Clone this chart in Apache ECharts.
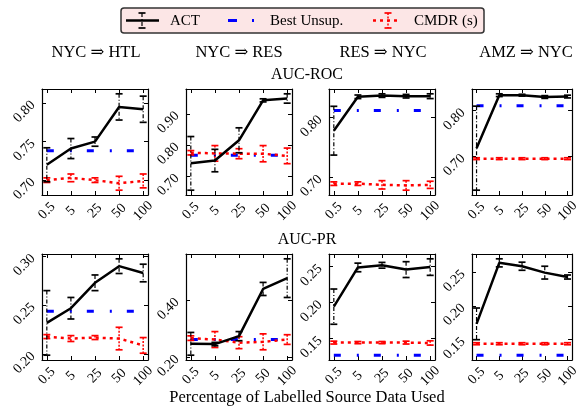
<!DOCTYPE html>
<html>
<head>
<meta charset="utf-8">
<script src="https://cdn.jsdelivr.net/npm/echarts@6/dist/echarts.min.js"></script>
<style>
  html, body { margin: 0; padding: 0; background: #fff; }
  #chart { width: 582px; height: 409px; }
</style>
</head>
<body>
<div id="chart"></div>
<script>
// x categories (percentage of labelled source data)
const categories = ['0.5', '5', '25', '50', '100'];
const tasks = ['NYC ⇒ HTL', 'NYC ⇒ RES', 'RES ⇒ NYC', 'AMZ ⇒ NYC'];
const metrics = ['AUC-ROC', 'AUC-PR'];

// AUC-ROC, one row per task (mean and std)
const actRoc = [
  [0.720, 0.741, 0.750, 0.795, 0.792],
  [0.741, 0.750, 0.815, 0.943, 0.949],
  [0.778, 0.835, 0.837, 0.836, 0.836],
  [0.718, 0.834, 0.834, 0.830, 0.831]
];
const actRocErr = [
  [0.022, 0.013, 0.006, 0.017, 0.017],
  [0.086, 0.036, 0.040, 0.005, 0.015],
  [0.041, 0.003, 0.003, 0.003, 0.004],
  [0.092, 0.003, 0.002, 0.003, 0.003]
];
const cmdrRoc = [
  [0.700, 0.703, 0.700, 0.696, 0.699],
  [0.775, 0.773, 0.772, 0.772, 0.765],
  [0.689, 0.689, 0.687, 0.686, 0.687],
  [0.695, 0.695, 0.695, 0.695, 0.695]
];
const cmdrRocErr = [
  [0.003, 0.005, 0.003, 0.009, 0.009],
  [0.007, 0.025, 0.016, 0.026, 0.025],
  [0.003, 0.003, 0.007, 0.008, 0.006],
  [0.002, 0.002, 0.002, 0.002, 0.002]
];
const bestRoc = [0.738, 0.767, 0.812, 0.811];

// AUC-PR
const actPr = [
  [0.232, 0.247, 0.273, 0.290, 0.283],
  [0.247, 0.246, 0.274, 0.440, 0.478],
  [0.1945, 0.249, 0.252, 0.246, 0.2495],
  [0.1735, 0.264, 0.259, 0.2495, 0.243]
];
const actPrErr = [
  [0.033, 0.011, 0.008, 0.0075, 0.009],
  [0.040, 0.006, 0.016, 0.023, 0.068],
  [0.0245, 0.006, 0.004, 0.011, 0.0115],
  [0.0235, 0.006, 0.006, 0.0095, 0.003]
];
const cmdrPr = [
  [0.218, 0.216, 0.217, 0.216, 0.209],
  [0.267, 0.262, 0.251, 0.254, 0.262],
  [0.1445, 0.1445, 0.1445, 0.1445, 0.144],
  [0.144, 0.144, 0.144, 0.144, 0.144]
];
const cmdrPrErr = [
  [0.002, 0.003, 0.002, 0.0115, 0.008],
  [0.008, 0.028, 0.021, 0.028, 0.017],
  [0.002, 0.0015, 0.0015, 0.002, 0.003],
  [0.0015, 0.0015, 0.0015, 0.0015, 0.0015]
];
const bestPr = [0.244, 0.262, 0.127, 0.127];

// y tick labels per panel
const rocTicks = [[0.70, 0.75, 0.80], [0.70, 0.80, 0.90], [0.70, 0.80], [0.70, 0.80]];
const prTicks = [[0.20, 0.25, 0.30], [0.20, 0.40], [0.15, 0.20, 0.25], [0.15, 0.20, 0.25]];

const serif = '"Liberation Serif", "DejaVu Serif", serif';
const gridLeft = [42, 186, 329, 472];
const gridTop = [89, 254];
const xIdx = categories.map((c, i) => i);

function errorBar(color, dash, capW, width) {
  return function (params, api) {
    const x = api.value(0);
    const hi = api.coord([x, api.value(2)]);
    const lo = api.coord([x, api.value(1)]);
    return {
      type: 'group',
      children: [
        { type: 'line', shape: { x1: hi[0], y1: hi[1], x2: lo[0], y2: lo[1] },
          style: { stroke: color, lineWidth: width, lineDash: dash } },
        { type: 'line', shape: { x1: hi[0] - capW, y1: hi[1], x2: hi[0] + capW, y2: hi[1] },
          style: { stroke: color, lineWidth: 1.7 } },
        { type: 'line', shape: { x1: lo[0] - capW, y1: lo[1], x2: lo[0] + capW, y2: lo[1] },
          style: { stroke: color, lineWidth: 1.7 } }
      ]
    };
  };
}

// matplotlib-like auto range with 5% margins
function autoRange(act, actErr, cmdr, cmdrErr, best) {
  let lo = best, hi = best;
  act.forEach((v, i) => { lo = Math.min(lo, v - actErr[i]); hi = Math.max(hi, v + actErr[i]); });
  cmdr.forEach((v, i) => { lo = Math.min(lo, v - cmdrErr[i]); hi = Math.max(hi, v + cmdrErr[i]); });
  const m = (hi - lo) * 0.05;
  return [lo - m, hi + m];
}

const grids = [], xAxes = [], yAxes = [], series = [];
const axisLine = { onZero: false, lineStyle: { color: '#000', width: 1.2 } };
const tickStyle = { color: '#000', width: 1 };

for (let r = 0; r < 2; r++) {
  for (let c = 0; c < 4; c++) {
    const gi = r * 4 + c;
    const act = r === 0 ? actRoc[c] : actPr[c];
    const actErr = r === 0 ? actRocErr[c] : actPrErr[c];
    const cmdr = r === 0 ? cmdrRoc[c] : cmdrPr[c];
    const cmdrErr = r === 0 ? cmdrRocErr[c] : cmdrPrErr[c];
    const best = r === 0 ? bestRoc[c] : bestPr[c];
    const ticks = r === 0 ? rocTicks[c] : prTicks[c];
    const [ymin, ymax] = autoRange(act, actErr, cmdr, cmdrErr, best);

    grids.push({ left: gridLeft[c], top: gridTop[r], width: 106, height: 106 });

    xAxes.push({
      type: 'value', gridIndex: gi, min: -0.2, max: 4.2, position: 'bottom',
      axisLine: axisLine,
      axisTick: { inside: true, length: 4, customValues: xIdx, lineStyle: tickStyle },
      axisLabel: {
        customValues: xIdx, formatter: v => categories[Math.round(v)],
        rotate: 45, align: 'center', verticalAlign: 'middle', margin: 16,
        fontFamily: serif, fontSize: 14, color: '#000'
      },
      splitLine: { show: false }
    }, {
      type: 'value', gridIndex: gi, min: -0.2, max: 4.2, position: 'top',
      axisLine: axisLine,
      axisTick: { inside: true, length: 4, customValues: xIdx, lineStyle: tickStyle },
      axisLabel: { show: false },
      splitLine: { show: false }
    });

    yAxes.push({
      type: 'value', gridIndex: gi, min: ymin, max: ymax, position: 'left',
      axisLine: axisLine,
      axisTick: { inside: true, length: 4, customValues: ticks, lineStyle: tickStyle },
      axisLabel: {
        customValues: ticks, formatter: v => v.toFixed(2),
        rotate: 45, margin: 9, fontFamily: serif, fontSize: 14, color: '#000'
      },
      splitLine: { show: false }
    }, {
      type: 'value', gridIndex: gi, min: ymin, max: ymax, position: 'right',
      axisLine: axisLine,
      axisTick: { inside: true, length: 4, customValues: ticks, lineStyle: tickStyle },
      axisLabel: { show: false },
      splitLine: { show: false }
    });

    const xi = gi * 2, yi = gi * 2;
    series.push({
      type: 'line', xAxisIndex: xi, yAxisIndex: yi, symbol: 'none', silent: true, z: 2,
      data: xIdx.map(i => [i, best]),
      lineStyle: { color: '#0000ff', width: 3, type: [7, 16, 2, 15] }
    }, {
      type: 'line', xAxisIndex: xi, yAxisIndex: yi, symbol: 'none', silent: true, z: 3,
      data: cmdr.map((v, i) => [i, v]),
      lineStyle: { color: '#ff0000', width: 2.5, type: [3, 4] }
    }, {
      type: 'custom', xAxisIndex: xi, yAxisIndex: yi, silent: true, z: 4,
      renderItem: errorBar('#ff0000', [2, 1.5], 3.5, 1.5),
      encode: { x: 0, y: [1, 2] },
      data: cmdr.map((v, i) => [i, v - cmdrErr[i], v + cmdrErr[i]])
    }, {
      type: 'line', xAxisIndex: xi, yAxisIndex: yi, symbol: 'none', silent: true, z: 5,
      data: act.map((v, i) => [i, v]),
      lineStyle: { color: '#000', width: 2.5 }
    }, {
      type: 'custom', xAxisIndex: xi, yAxisIndex: yi, silent: true, z: 6,
      renderItem: errorBar('#000', [4, 2, 1, 2], 3.5, 1.2),
      encode: { x: 0, y: [1, 2] },
      data: act.map((v, i) => [i, v - actErr[i], v + actErr[i]])
    });
  }
}

function label(text, x, y, size, align) {
  return {
    type: 'text', x: x, y: y, z: 100,
    style: {
      text: text, font: size + 'px ' + serif, fill: '#000',
      align: align || 'center', verticalAlign: 'middle',
      textAlign: align || 'center', textVerticalAlign: 'middle'
    }
  };
}

const graphics = [
  // legend box
  { type: 'rect', z: 90, shape: { x: 121, y: 8, width: 363, height: 25, r: 3 },
    style: { fill: '#fce6e6', stroke: '#333', lineWidth: 1.5 } },
  { type: 'line', z: 95, shape: { x1: 126, y1: 20.5, x2: 159, y2: 20.5 }, style: { stroke: '#000', lineWidth: 2.5 } },
  { type: 'line', z: 95, shape: { x1: 142, y1: 13, x2: 142, y2: 28 }, style: { stroke: '#000', lineWidth: 1.2, lineDash: [4, 2, 1, 2] } },
  { type: 'line', z: 95, shape: { x1: 138.5, y1: 13, x2: 145.5, y2: 13 }, style: { stroke: '#000', lineWidth: 1.7 } },
  { type: 'line', z: 95, shape: { x1: 138.5, y1: 28, x2: 145.5, y2: 28 }, style: { stroke: '#000', lineWidth: 1.7 } },
  { type: 'line', z: 95, shape: { x1: 228, y1: 20.5, x2: 256, y2: 20.5 }, style: { stroke: '#0000ff', lineWidth: 3, lineDash: [9, 15, 2, 15] } },
  { type: 'line', z: 95, shape: { x1: 373, y1: 20.5, x2: 398, y2: 20.5 }, style: { stroke: '#ff0000', lineWidth: 2.5, lineDash: [3, 4] } },
  { type: 'line', z: 95, shape: { x1: 388, y1: 13, x2: 388, y2: 28 }, style: { stroke: '#ff0000', lineWidth: 1.5, lineDash: [2, 1.5] } },
  { type: 'line', z: 95, shape: { x1: 384.5, y1: 13, x2: 391.5, y2: 13 }, style: { stroke: '#ff0000', lineWidth: 1.7 } },
  { type: 'line', z: 95, shape: { x1: 384.5, y1: 28, x2: 391.5, y2: 28 }, style: { stroke: '#ff0000', lineWidth: 1.7 } },
  label('ACT', 170, 21, 15, 'left'),
  label('Best Unsup.', 270, 21, 15, 'left'),
  label('CMDR (s)', 414, 21, 15, 'left'),
  // column titles
  label(tasks[0], 96, 53, 16.5),
  label(tasks[1], 239, 53, 16.5),
  label(tasks[2], 383, 53, 16.5),
  label(tasks[3], 526, 53, 16.5),
  // row titles
  label(metrics[0], 307, 75, 16),
  label(metrics[1], 307, 240, 16),
  // shared x axis name
  label('Percentage of Labelled Source Data Used', 307, 398, 16.5)
];

const chart = echarts.init(document.getElementById('chart'));
chart.setOption({
  animation: false,
  backgroundColor: '#fff',
  grid: grids,
  xAxis: xAxes,
  yAxis: yAxes,
  series: series,
  graphic: graphics
});
</script>
</body>
</html>
